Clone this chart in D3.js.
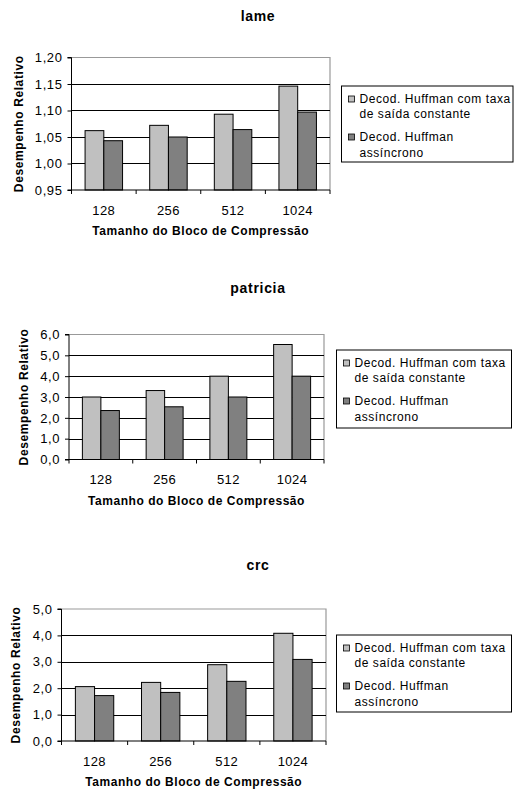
<!DOCTYPE html>
<html>
<head>
<meta charset="utf-8">
<script src="https://cdn.jsdelivr.net/npm/d3@7"></script>
<style>
  html, body { margin: 0; padding: 0; background: #fff; }
  svg { display: block; font-family: Arial, "Liberation Sans", sans-serif; }
</style>
</head>
<body>
<svg id="chart" width="514" height="793"></svg>
<script>
// ---- data ----
const categories = ["128", "256", "512", "1024"];
const seriesNames = ["Decod. Huffman com taxa de saída constante", "Decod. Huffman assíncrono"];
const legendLines = [["Decod. Huffman com taxa", "de saída constante"], ["Decod. Huffman", "assíncrono"]];

const lameConst = [1.062, 1.072, 1.093, 1.146];
const lameAsync = [1.043, 1.050, 1.064, 1.097];
const lameTicks = [0.95, 1.00, 1.05, 1.10, 1.15, 1.20];

const patriciaConst = [3.00, 3.31, 4.00, 5.52];
const patriciaAsync = [2.35, 2.53, 3.00, 4.00];
const patriciaTicks = [0, 1, 2, 3, 4, 5, 6];

const crcConst = [2.06, 2.22, 2.89, 4.08];
const crcAsync = [1.72, 1.84, 2.26, 3.09];
const crcTicks = [0, 1, 2, 3, 4, 5];

const titles = ["lame", "patricia", "crc"];
const yTitle = "Desempenho Relativo";
const xTitle = "Tamanho do Bloco de Compressão";

// ---- styles / layout ----
const colors = ["#c0c0c0", "#808080"];
const svg = d3.select("#chart");

const layouts = [
  { left: 71.5, right: 330, top: 57.5, bottom: 190, titleY: 16, yLabX: 19, legend: { x: 341.5, y: 86, w: 171.5, h: 76 }, decimals: 2 },
  { left: 69, right: 324, top: 334.5, bottom: 459.5, titleY: 288, yLabX: 24, legend: { x: 336.5, y: 350, w: 175, h: 78 }, decimals: 1 },
  { left: 61.5, right: 326, top: 609, bottom: 741, titleY: 565, yLabX: 16, legend: { x: 336.5, y: 635, w: 175, h: 77 }, decimals: 1 }
];

const datasets = [
  { a: lameConst, b: lameAsync, ticks: lameTicks },
  { a: patriciaConst, b: patriciaAsync, ticks: patriciaTicks },
  { a: crcConst, b: crcAsync, ticks: crcTicks }
];

function fmt(v, d) { return v.toFixed(d).replace(".", ","); }

datasets.forEach((ds, i) => {
  const L = layouts[i];
  const g = svg.append("g");
  const x = d3.scaleBand().domain(categories).range([L.left, L.right]).paddingInner(0).paddingOuter(0);
  const y = d3.scaleLinear().domain([ds.ticks[0], ds.ticks[ds.ticks.length - 1]]).range([L.bottom, L.top]);
  const barFrac = 0.29;
  const bw = x.bandwidth() * barFrac;

  // title
  g.append("text").attr("x", 258).attr("y", L.titleY).attr("dy", "0.35em")
    .attr("text-anchor", "middle").attr("font-weight", "bold").attr("font-size", 14)
    .attr("letter-spacing", 0.7)
    .text(titles[i]);

  // plot border (top/right) gray
  g.append("path")
    .attr("d", `M${L.left},${L.top}H${L.right}V${L.bottom}`)
    .attr("fill", "none").attr("stroke", "#999").attr("stroke-width", 1.2);

  // gridlines
  g.selectAll(".grid").data(ds.ticks.slice(1, -1)).enter().append("line")
    .attr("x1", L.left).attr("x2", L.right)
    .attr("y1", d => Math.round(y(d)) + 0.5).attr("y2", d => Math.round(y(d)) + 0.5)
    .attr("stroke", "#000").attr("stroke-width", 1);

  // bars
  const rows = categories.map((c, k) => ({ c, v: [ds.a[k], ds.b[k]] }));
  rows.forEach(r => {
    r.v.forEach((v, s) => {
      const cx = x(r.c) + x.bandwidth() / 2;
      const x0 = cx - bw + s * bw;
      g.append("rect")
        .attr("x", x0).attr("y", y(v))
        .attr("width", bw).attr("height", L.bottom - y(v))
        .attr("fill", colors[s]).attr("stroke", "#000").attr("stroke-width", 1);
    });
  });

  // y axis
  const yAxis = d3.axisLeft(y).tickValues(ds.ticks).tickSize(4).tickPadding(5)
    .tickFormat(d => fmt(d, L.decimals));
  const ya = g.append("g").attr("transform", `translate(${L.left},0)`).call(yAxis);
  ya.select(".domain").attr("stroke", "#000").attr("d", `M-4,${L.top}H0V${L.bottom}H-4`);
  ya.selectAll("text").attr("font-size", 13).attr("letter-spacing", 0.6)
    .attr("font-family", "Arial, 'Liberation Sans', sans-serif").attr("fill", "#000");

  // x axis
  const xa = g.append("g").attr("transform", `translate(0,${L.bottom})`);
  xa.append("line").attr("x1", L.left).attr("x2", L.right).attr("y1", 0).attr("y2", 0).attr("stroke", "#000");
  const bounds = categories.map(c => x(c)).concat([L.right]);
  xa.selectAll(".xt").data(bounds).enter().append("line")
    .attr("x1", d => d).attr("x2", d => d).attr("y1", 0).attr("y2", 4).attr("stroke", "#000");
  xa.selectAll(".xl").data(categories).enter().append("text")
    .attr("x", d => x(d) + x.bandwidth() / 2).attr("y", 20).attr("dy", "0.35em")
    .attr("text-anchor", "middle").attr("font-size", 13).attr("letter-spacing", 0.4).text(d => d);

  // axis titles
  g.append("text").attr("x", (L.left + L.right) / 2).attr("y", L.bottom + 41).attr("dy", "0.35em")
    .attr("text-anchor", "middle").attr("font-weight", "bold").attr("font-size", 12)
    .attr("letter-spacing", 0.55).text(xTitle);
  g.append("text").attr("transform", `translate(${L.yLabX},${(L.top + L.bottom) / 2}) rotate(-90)`)
    .attr("dy", "0.35em").attr("text-anchor", "middle").attr("font-weight", "bold").attr("font-size", 12)
    .attr("letter-spacing", 0.6).text(yTitle);

  // legend
  const lg = g.append("g").attr("transform", `translate(${L.legend.x},${L.legend.y})`);
  lg.append("rect").attr("width", L.legend.w).attr("height", L.legend.h)
    .attr("fill", "#fff").attr("stroke", "#000").attr("stroke-width", 1);
  const lineY = [[13, 28], [51, 67]];
  seriesNames.forEach((name, s) => {
    lg.append("rect").attr("x", 7).attr("y", lineY[s][0] - 3).attr("width", 6).attr("height", 6)
      .attr("fill", colors[s]).attr("stroke", "#000").attr("stroke-width", 0.8);
    legendLines[s].forEach((t, j) => {
      lg.append("text").attr("x", 18).attr("y", lineY[s][j]).attr("dy", "0.35em")
        .attr("font-size", 12).attr("letter-spacing", 0.55).text(t);
    });
  });
});
</script>
</body>
</html>
